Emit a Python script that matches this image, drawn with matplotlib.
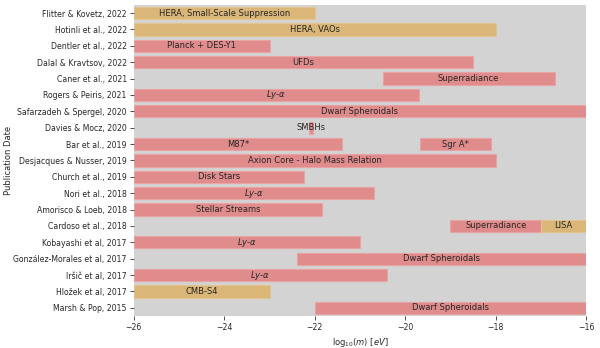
import matplotlib.pyplot as plt

# publications, top to bottom
papers = [
    'Flitter & Kovetz, 2022', 'Hotinli et al., 2022', 'Dentler et al., 2022',
    'Dalal & Kravtsov, 2022', 'Caner et al., 2021', 'Rogers & Peiris, 2021',
    'Safarzadeh & Spergel, 2020', 'Davies & Mocz, 2020', 'Bar et al., 2019',
    'Desjacques & Nusser, 2019', 'Church et al., 2019', 'Nori et al., 2018',
    'Amorisco & Loeb, 2018', 'Cardoso et al., 2018', 'Kobayashi et al, 2017',
    'González-Morales et al, 2017', 'Iršič et al, 2017', 'Hložek et al, 2017',
    'Marsh & Pop, 2015',
]

# constraints: paper index, lo, hi, label, kind ('o' observed, 'f' forecast)
row_idx = [0, 1, 2, 3, 4, 5, 6, 7, 8, 8, 9, 10, 11, 12, 13, 13, 14, 15, 16, 17, 18]
lo = [-26, -26, -26, -26, -20.5, -26, -26, -22.12, -26, -19.67, -26, -26, -26, -26,
      -19.0, -17.0, -26, -22.4, -26, -26, -22.0]
hi = [-22.0, -18.0, -23.0, -18.5, -16.7, -19.7, -16, -22.04, -21.4, -18.1, -18.0,
      -22.24, -20.7, -21.84, -17.0, -16, -21.0, -16, -20.4, -23.0, -16]
labels = ['HERA, Small-Scale Suppression', 'HERA, VAOs', 'Planck + DES-Y1', 'UFDs',
          'Superradiance', r'$Ly$-$\alpha$', 'Dwarf Spheroidals', 'SMBHs', 'M87*', 'Sgr A*',
          'Axion Core - Halo Mass Relation', 'Disk Stars', r'$Ly$-$\alpha$', 'Stellar Streams',
          'Superradiance', 'LISA', r'$Ly$-$\alpha$', 'Dwarf Spheroidals', r'$Ly$-$\alpha$',
          'CMB-S4', 'Dwarf Spheroidals']
kind = ['f', 'f', 'o', 'o', 'o', 'o', 'o', 'o', 'o', 'o', 'o', 'o', 'o', 'o',
        'o', 'f', 'o', 'o', 'o', 'f', 'o']

colors = {'o': '#e08b8c', 'f': '#dab778'}
edges = {'o': '#e8a4a4', 'f': '#e2c491'}

fig = plt.figure(figsize=(6.0, 3.48), dpi=100)
ax = fig.add_axes([0.223, 0.092, 0.754, 0.894])
ax.set_facecolor('#d3d3d3')

n = len(papers)
for r, a, b, lab, k in zip(row_idx, lo, hi, labels, kind):
    y = n - 1 - r
    ax.barh(y, b - a, left=a, height=0.75, color=colors[k], edgecolor=edges[k], linewidth=0.8)
    ax.text((a + b) / 2, y, lab, ha='center', va='center', fontsize=6, color='#262626')

ax.set_yticks(range(n))
ax.set_yticklabels(papers[::-1], fontsize=5.6, color='#262626')
ax.set_xlim(-26, -16)
ax.set_ylim(-0.5, n - 0.5)
ax.set_xticks([-26, -24, -22, -20, -18, -16])
ax.tick_params(axis='x', labelsize=5.6, labelcolor='#262626', length=3, width=0.6, color='#333333', pad=2)
ax.tick_params(axis='y', length=3, width=0.6, color='#333333', pad=2)
for s in ax.spines.values():
    s.set_visible(False)
ax.set_xlabel(r'log$_{10}$($m$) [$eV$]', fontsize=6, labelpad=3, color='#262626')
ax.set_ylabel('Publication Date', fontsize=6, color='#262626', va='center')
ax.yaxis.set_label_coords(-0.278, 0.5)

fig.savefig('out.png', dpi=100)
